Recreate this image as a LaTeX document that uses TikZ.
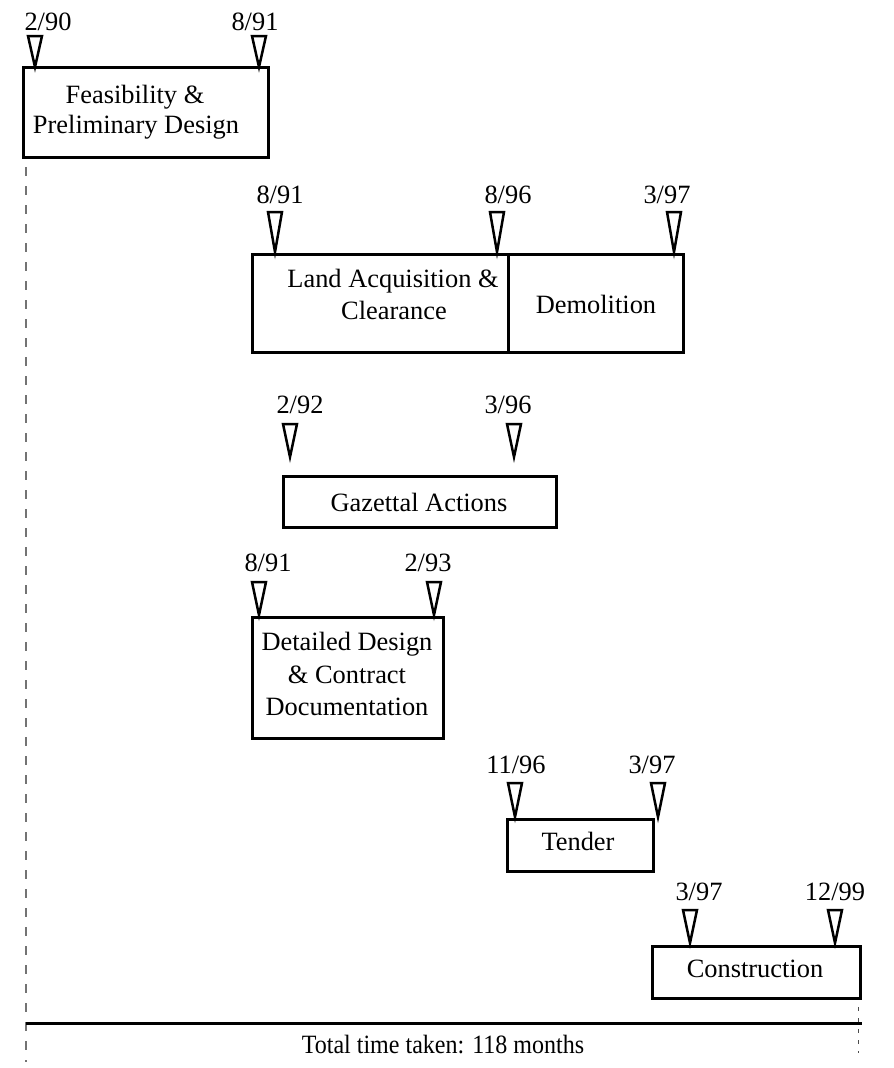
\documentclass[tikz,border=0pt]{standalone}
\usepackage{fontspec}
\setmainfont{Liberation Serif}
\begin{document}
\begin{tikzpicture}[x=1pt,y=-1pt,
  every node/.style={font=\fontsize{26.4pt}{32pt}\selectfont, inner sep=0pt},
  box/.style={draw=black, line width=3pt, fill=white, rectangle},
  txt/.style={anchor=base},
  marker/.style={draw=black, line width=2.5pt, fill=white, line join=miter},
  guide/.style={draw=black!55, line width=1.2pt, dash pattern=on 9pt off 10pt},
  guidetwo/.style={draw=black!70, line width=1pt, dash pattern=on 4pt off 7pt},
  total/.style={draw=black, line width=3pt}
]
\useasboundingbox (0,0) rectangle (894,1068);

% guide lines (behind boxes)
\coordinate (gtop) at (26,110);
\coordinate (gbot) at (26,1062);
\draw[guide] (gtop) -- (gbot);
\coordinate (rtop) at (858,1007);
\coordinate (rbot) at (858,1053);
\draw[guidetwo] (rtop) -- (rbot);

% milestone macro: name, x, top, tip, label, label x, baseline
\newcommand{\mstone}[7]{%
  \coordinate (#1) at (#2,#4);
  \draw[marker] ([xshift=-7pt]#2,#3) -- ([xshift=7pt]#2,#3) -- (#1) -- cycle;
  \node[txt] (#1l) at (#6,#7) {#5};
}

% Feasibility
\node[box, minimum width=245pt, minimum height=90pt] (feas) at (145.5,112) {};
\node[txt] (feas1) at (135,103) {Feasibility \&};
\node[txt] (feas2) at (136,133) {Preliminary Design};
\mstone{m1}{35}{36}{67}{2/90}{48}{30}
\mstone{m2}{259}{36}{67}{8/91}{255}{30}

% Land / Demolition
\node[box, minimum width=256pt, minimum height=98pt] (land) at (380,303) {};
\node[box, minimum width=175pt, minimum height=98pt] (demo) at (595.5,303) {};
\node[txt] (land1) at (393,287) {Land Acquisition \&};
\node[txt] (land2) at (394,319) {Clearance};
\node[txt] (demot) at (596,313) {Demolition};
\mstone{m3}{275}{212}{252}{8/91}{280}{203}
\mstone{m4}{497}{212}{252}{8/96}{508}{203}
\mstone{m5}{674}{212}{252}{3/97}{667}{203}

% Gazettal
\node[box, minimum width=273pt, minimum height=51pt] (gaz) at (419.5,501.5) {};
\node[txt] (gazt) at (419,511) {Gazettal Actions};
\mstone{m6}{290}{424}{457}{2/92}{300}{413}
\mstone{m7}{514}{424}{457}{3/96}{508}{413}

% Detailed design
\node[box, minimum width=191pt, minimum height=121pt] (det) at (347.5,677.5) {};
\node[txt] (det1) at (347,650) {Detailed Design};
\node[txt] (det2) at (347,683) {\& Contract};
\node[txt] (det3) at (347,715) {Documentation};
\mstone{m8}{259}{582}{615}{8/91}{268}{571}
\mstone{m9}{434}{582}{615}{2/93}{428}{571}

% Tender
\node[box, minimum width=146pt, minimum height=52pt] (tender) at (580,845) {};
\node[txt] (tendert) at (578,850) {Tender};
\mstone{m10}{515}{783}{817}{11/96}{516}{773}
\mstone{m11}{658}{783}{817}{3/97}{652}{773}

% Construction
\node[box, minimum width=208pt, minimum height=52pt] (cons) at (756,972) {};
\node[txt] (const) at (755,977) {Construction};
\mstone{m12}{690}{910}{943}{3/97}{699}{900}
\mstone{m13}{835}{910}{943}{12/99}{835}{900}

% Total line
\coordinate (tl) at (26,1023);
\coordinate (tr) at (862,1023);
\draw[total] (tl) -- (tr);
\node[txt, xscale=0.91] (totalt) at (443,1053) {Total time taken: 118 months};
\end{tikzpicture}
\end{document}
